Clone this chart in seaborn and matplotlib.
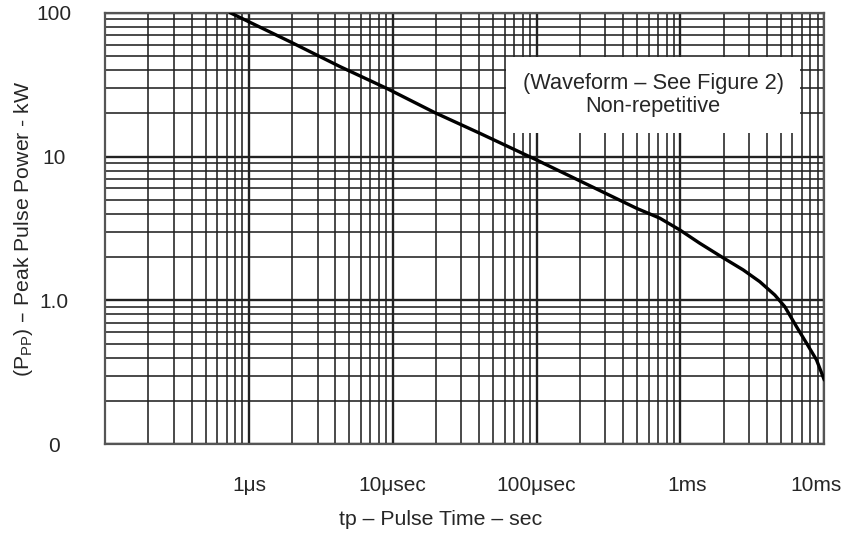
import numpy as np
import matplotlib
matplotlib.use("Agg")
import matplotlib.pyplot as plt
import matplotlib.transforms as mtransforms
from matplotlib.ticker import LogLocator, FixedLocator, FixedFormatter, NullFormatter
import seaborn as sns

# Curve (pulse time in seconds, peak pulse power in kW)
pulse_time_s = [7.4e-7, 1.93e-6, 4.3e-6, 9.07e-6, 1.96e-5, 4.04e-5, 1.0e-4,
                4.95e-4, 7.19e-4, 9.9e-4, 1.36e-3, 1.93e-3, 2.73e-3, 3.56e-3,
                4.53e-3, 5.31e-3, 6.41e-3, 7.52e-3, 8.83e-3, 1.0e-2]
peak_power_kw = [100, 62.9, 42.2, 29.8, 20.2, 14.5, 9.47,
                 4.37, 3.73, 3.09, 2.50, 2.01, 1.63, 1.35,
                 1.09, 0.906, 0.657, 0.505, 0.386, 0.280]

# Tick labels as printed on the chart
x_tick_values = [1e-6, 1e-5, 1e-4, 1e-3, 1e-2]
x_tick_labels = ["1\u03bcs", "10\u03bcsec", "100\u03bcsec", "1ms", "10ms"]
y_tick_values = [0.1, 1, 10, 100]
y_tick_labels = ["0", "1.0", "10", "100"]

note_text = "(Waveform \u2013 See Figure 2)\nNon-repetitive"

sns.set_style("white")
plt.rcParams['font.family'] = ['Liberation Sans', 'DejaVu Sans']
plt.rcParams['mathtext.default'] = 'regular'

fig = plt.figure(figsize=(8.47, 5.33), dpi=100)
ax = fig.add_axes([0.124, 0.1664, 0.8492, 0.8098])

ax.set_xscale('log')
ax.set_yscale('log')
ax.set_xlim(1e-7, 1e-2)
ax.set_ylim(0.1, 100)

# Log graph paper: every major and minor line drawn
ax.xaxis.set_major_locator(FixedLocator(x_tick_values))
ax.xaxis.set_major_formatter(FixedFormatter(x_tick_labels))
ax.xaxis.set_minor_locator(LogLocator(base=10, subs=np.arange(2, 10), numticks=100))
ax.xaxis.set_minor_formatter(NullFormatter())
ax.yaxis.set_major_locator(FixedLocator(y_tick_values))
ax.yaxis.set_major_formatter(FixedFormatter(y_tick_labels))
ax.yaxis.set_minor_locator(LogLocator(base=10, subs=np.arange(2, 10), numticks=100))
ax.yaxis.set_minor_formatter(NullFormatter())

ax.grid(True, which='minor', color='#222222', lw=1.15)
ax.grid(True, which='major', color='#222222', lw=1.7)
ax.set_axisbelow(True)

sns.lineplot(x=pulse_time_s, y=peak_power_kw, ax=ax, color='black', lw=2.4,
             sort=False, zorder=5)

ax.tick_params(which='both', length=0)
ax.tick_params(axis='x', pad=23, labelsize=15)
ax.tick_params(axis='y', pad=37, labelsize=15)
for lab in ax.get_yticklabels():
    lab.set_ha('center')

# the last two time labels sit a little off their lines in the original
xlabs = ax.get_xticklabels()
xlabs[3].set_transform(xlabs[3].get_transform() +
                       mtransforms.ScaledTranslation(5 / 72, 0, fig.dpi_scale_trans))
xlabs[4].set_transform(xlabs[4].get_transform() +
                       mtransforms.ScaledTranslation(-6 / 72, 0, fig.dpi_scale_trans))

for s in ax.spines.values():
    s.set_color('#555555')
    s.set_linewidth(1.6)

ax.set_xlabel("tp \u2013 Pulse Time \u2013 sec", fontsize=15.3)
ax.xaxis.set_label_coords(0.466, -0.152)
ax.set_ylabel("(P$_{PP}$) \u2013 Peak Pulse Power - kW", fontsize=15.3)
ax.yaxis.set_label_coords(-0.097, 0.5)

ax.text(0.762, 0.809, note_text, transform=ax.transAxes, ha='center', va='center',
        fontsize=15.7, linespacing=1.1, zorder=6,
        bbox=dict(boxstyle='square,pad=0.75', facecolor='white', edgecolor='none'))

fig.savefig("out.png", dpi=100)
